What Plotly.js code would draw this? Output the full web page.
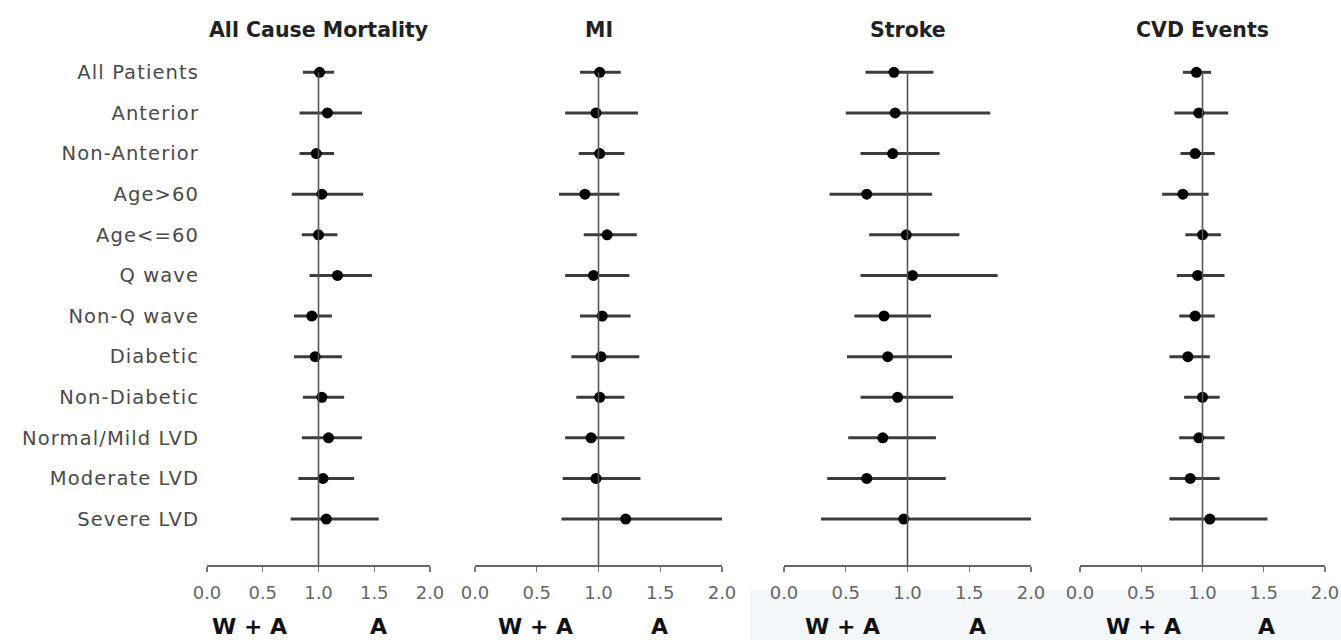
<!DOCTYPE html>
<html>
<head>
<meta charset="utf-8">
<script src="https://cdn.plot.ly/plotly-3.0.1.min.js"></script>
<style>
  html, body { margin: 0; padding: 0; background: #fff; }
  #chart { width: 1341px; height: 640px; }
  .ytick text { letter-spacing: 1.1px; }
</style>
</head>
<body>
<div id="chart"></div>
<script>
// Subgroup hazard ratios (point estimate with 95% CI), warfarin + aspirin vs aspirin
const categories = ['All Patients', 'Anterior', 'Non-Anterior', 'Age>60', 'Age<=60', 'Q wave',
  'Non-Q wave', 'Diabetic', 'Non-Diabetic', 'Normal/Mild LVD', 'Moderate LVD', 'Severe LVD'];

const panelTitles = ['All Cause Mortality', 'MI', 'Stroke', 'CVD Events'];
const tickVals = [0, 0.5, 1, 1.5, 2];
const tickLabels = ['0.0', '0.5', '1.0', '1.5', '2.0'];
const leftGroupLabel = 'W + A';
const rightGroupLabel = 'A';

const mortalityEst  = [1.01, 1.08, 0.98, 1.03, 1.00, 1.17, 0.94, 0.97, 1.03, 1.09, 1.04, 1.07];
const mortalityLow  = [0.86, 0.83, 0.83, 0.76, 0.85, 0.92, 0.78, 0.78, 0.86, 0.85, 0.82, 0.75];
const mortalityHigh = [1.14, 1.39, 1.14, 1.40, 1.17, 1.48, 1.12, 1.21, 1.23, 1.39, 1.32, 1.54];

const miEst  = [1.01, 0.98, 1.01, 0.89, 1.07, 0.96, 1.03, 1.02, 1.01, 0.94, 0.98, 1.22];
const miLow  = [0.85, 0.73, 0.84, 0.68, 0.88, 0.73, 0.85, 0.78, 0.82, 0.73, 0.71, 0.70];
const miHigh = [1.18, 1.32, 1.21, 1.17, 1.31, 1.25, 1.26, 1.33, 1.21, 1.21, 1.34, 2.00];

const strokeEst  = [0.89, 0.90, 0.88, 0.67, 0.99, 1.04, 0.81, 0.84, 0.92, 0.80, 0.67, 0.97];
const strokeLow  = [0.66, 0.50, 0.62, 0.37, 0.69, 0.62, 0.57, 0.51, 0.62, 0.52, 0.35, 0.30];
const strokeHigh = [1.21, 1.67, 1.26, 1.20, 1.42, 1.73, 1.19, 1.36, 1.37, 1.23, 1.31, 2.00];

const cvdEst  = [0.95, 0.97, 0.94, 0.84, 1.00, 0.96, 0.94, 0.88, 1.00, 0.97, 0.90, 1.06];
const cvdLow  = [0.84, 0.77, 0.82, 0.67, 0.86, 0.79, 0.81, 0.73, 0.85, 0.81, 0.73, 0.73];
const cvdHigh = [1.07, 1.21, 1.10, 1.05, 1.15, 1.18, 1.10, 1.06, 1.14, 1.18, 1.14, 1.53];

const panels = [
  { est: mortalityEst, low: mortalityLow, high: mortalityHigh },
  { est: miEst, low: miLow, high: miHigh },
  { est: strokeEst, low: strokeLow, high: strokeHigh },
  { est: cvdEst, low: cvdLow, high: cvdHigh }
];

// Layout geometry (pixels within the 1341 x 640 canvas)
const W = 1341, H = 640;
const panelPx = [[207, 430], [475, 722], [784, 1031], [1080, 1325]];
const groupLabelPos = [[0.38, 1.54], [0.49, 1.49], [0.47, 1.57], [0.52, 1.52]];
const FONT = 'DejaVu Sans, Liberation Sans, Arial, sans-serif';

const traces = [];
const shapes = [];
const annotations = [];
const layout = {
  width: W, height: H,
  margin: { l: 0, r: 0, t: 0, b: 0 },
  paper_bgcolor: '#ffffff',
  plot_bgcolor: 'rgba(0,0,0,0)',
  showlegend: false,
  font: { family: FONT, color: '#444' },
  yaxis: {
    type: 'category',
    categoryorder: 'array',
    categoryarray: categories,
    range: [12.13, -0.5],
    domain: [75 / H, 588 / H],
    anchor: 'x',
    showgrid: false, zeroline: false, showline: false,
    ticks: '',
    ticklabelstandoff: 7,
    tickfont: { family: FONT, size: 19.5, color: '#4a4a4a' },
    fixedrange: true
  }
};

// faint tint along the lower right edge
shapes.push({
  type: 'rect', xref: 'paper', yref: 'paper', layer: 'below',
  x0: 750 / W, x1: 1, y0: 0, y1: 50 / H,
  fillcolor: 'rgba(225,233,240,0.38)', line: { width: 0 }
});

panels.forEach((p, i) => {
  const n = i + 1;
  const xa = n === 1 ? 'x' : 'x' + n;
  const axKey = n === 1 ? 'xaxis' : 'xaxis' + n;

  layout[axKey] = {
    domain: [panelPx[i][0] / W, panelPx[i][1] / W],
    range: [0, 2],
    anchor: 'y',
    tickmode: 'array',
    tickvals: tickVals,
    ticktext: tickLabels,
    ticks: 'outside', ticklen: 5, tickwidth: 1.2, tickcolor: '#777',
    showline: true, linecolor: '#666', linewidth: 1.5,
    showgrid: false, zeroline: false,
    ticklabelstandoff: 6,
    ticklabeloverflow: 'allow',
    tickfont: { family: FONT, size: 18, color: '#666' },
    fixedrange: true
  };

  // reference line at hazard ratio 1
  shapes.push({
    type: 'line', xref: xa, yref: 'y',
    x0: 1, x1: 1, y0: 0, y1: 12.13,
    line: { color: '#555', width: 1.6 }
  });

  traces.push({
    type: 'scatter', mode: 'markers',
    x: p.est, y: categories,
    xaxis: xa, yaxis: 'y',
    cliponaxis: false,
    marker: { color: '#000', size: 11 },
    error_x: {
      type: 'data', symmetric: false,
      array: p.est.map((v, k) => p.high[k] - v),
      arrayminus: p.est.map((v, k) => v - p.low[k]),
      color: '#3c3c3c', thickness: 3, width: 0
    },
    hoverinfo: 'skip'
  });

  annotations.push({
    xref: xa, yref: 'paper', x: 1, y: (H - 30) / H,
    xanchor: 'center', yanchor: 'middle', showarrow: false,
    text: panelTitles[i],
    font: { family: FONT, size: 20.5, color: '#222', weight: 'bold' }
  });
  annotations.push({
    xref: xa, yref: 'paper', x: groupLabelPos[i][0], y: (H - 626) / H,
    xanchor: 'center', yanchor: 'middle', showarrow: false,
    text: leftGroupLabel,
    font: { family: FONT, size: 22, color: '#111', weight: 'bold' }
  });
  annotations.push({
    xref: xa, yref: 'paper', x: groupLabelPos[i][1], y: (H - 626) / H,
    xanchor: 'center', yanchor: 'middle', showarrow: false,
    text: rightGroupLabel,
    font: { family: FONT, size: 22, color: '#111', weight: 'bold' }
  });
});

layout.shapes = shapes;
layout.annotations = annotations;

Plotly.newPlot('chart', traces, layout, { staticPlot: true, displayModeBar: false });
</script>
</body>
</html>
